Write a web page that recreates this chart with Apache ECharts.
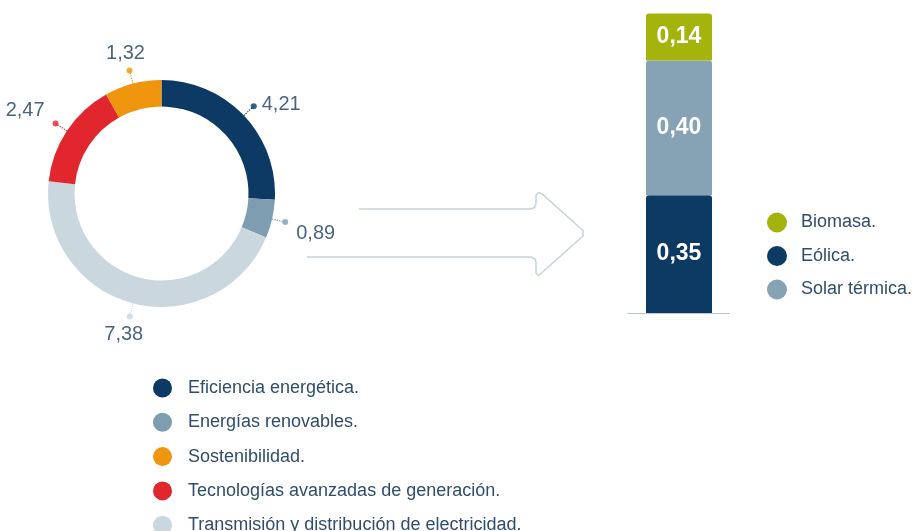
<!DOCTYPE html>
<html><head><meta charset="utf-8">
<script src="https://cdn.jsdelivr.net/npm/echarts@6/dist/echarts.min.js"></script>
<style>html,body{margin:0;padding:0;background:#fff}#c{width:916px;height:531px}</style>
</head><body><div id="c"></div>
<script>
// ---- data ----
const pieNames = ['Eficiencia energética.', 'Energías renovables.', 'Transmisión y distribución de electricidad.', 'Tecnologías avanzadas de generación.', 'Sostenibilidad.'];
const pieValues = [4.21, 0.89, 7.38, 2.47, 1.32];
const pieLegendOrder = ['Eficiencia energética.', 'Energías renovables.', 'Sostenibilidad.', 'Tecnologías avanzadas de generación.', 'Transmisión y distribución de electricidad.'];
const barCategory = ['Energías renovables'];
const barNames = ['Eólica.', 'Solar térmica.', 'Biomasa.'];
const barValues = [0.35, 0.40, 0.14];
const barLegendOrder = ['Biomasa.', 'Eólica.', 'Solar térmica.'];

// ---- styles ----
const pieColors = ['#0c3a64', '#7f9db1', '#cbd7df', '#e2262d', '#f0950e'];
const barColors = ['#0d3a63', '#86a2b5', '#a4b40d'];
const labelPlace = [
  {position: 'right', distance: 5, offset: [0, -2]},
  {position: 'right', distance: 8, offset: [0, 11]},
  {position: 'bottom', distance: 5, offset: [-6, 0]},
  {position: 'left', distance: 12, offset: [4, -13]},
  {position: 'top', distance: 4, offset: [-4, 0]}
];
const FONT = '"Liberation Sans", Arial, sans-serif';
const fmt = v => v.toFixed(2).replace('.', ',');

const total = pieValues.reduce((a, b) => a + b, 0);
let cum = 0;
const dotData = pieValues.map((v, i) => {
  const mid = cum + v / 2; cum += v;
  return {
    value: [1, mid],
    itemStyle: {color: pieColors[i]},
    label: Object.assign({show: true, formatter: fmt(v), color: '#1b3d63', fontSize: 20, fontFamily: FONT}, labelPlace[i])
  };
});

const chart = echarts.init(document.getElementById('c'), null, {renderer: 'canvas'});
chart.setOption({
  animation: false,
  backgroundColor: '#ffffff',
  polar: {center: [161.5, 193.5], radius: 127},
  angleAxis: {type: 'value', min: 0, max: total, startAngle: 90, clockwise: true, show: false},
  radiusAxis: {type: 'value', min: 0, max: 1, show: false},
  grid: {left: 628, top: 13.5, width: 102, height: 299.5},
  xAxis: {type: 'category', data: barCategory,
    axisLine: {lineStyle: {color: '#a9bccb', type: 'dotted', width: 1}},
    axisTick: {show: false}, axisLabel: {show: false}},
  yAxis: {type: 'value', min: 0, max: 0.89, show: false, splitLine: {show: false}},
  legend: [
    {data: pieLegendOrder, orient: 'vertical', left: 153, top: 378.5, height: 200, padding: 0, icon: 'circle',
      itemWidth: 19, itemHeight: 19, itemGap: 15.3,
      textStyle: {fontSize: 18, color: '#2f4d6e', fontFamily: FONT, padding: [0, 0, 0, 11], lineHeight: 19}},
    {data: barLegendOrder, orient: 'vertical', left: 767, top: 212.5, padding: 0, icon: 'circle',
      itemWidth: 20, itemHeight: 20, itemGap: 13.5,
      textStyle: {fontSize: 18, color: '#2f4d6e', fontFamily: FONT, padding: [0, 0, 0, 9], lineHeight: 20}}
  ],
  graphic: [{
    type: 'polyline', silent: true,
    shape: {points: [[359, 209], [531, 209], [535, 207], [536, 203], [536, 195], [538.5, 192.5], [541.5, 193.5], [583, 230.5], [583, 236], [541.5, 273], [538.5, 275.5], [536, 273], [536, 262], [535, 259], [531, 257], [307, 257]]},
    style: {stroke: '#c5d2dc', lineWidth: 1.5, fill: null}
  }],
  series: [
    {
      type: 'pie', name: 'donut', center: [161.5, 193.5], radius: [87, 113.5],
      startAngle: 90, clockwise: true, avoidLabelOverlap: false,
      data: pieNames.map((n, i) => ({name: n, value: pieValues[i], itemStyle: {color: pieColors[i]}})),
      label: {show: true, position: 'outside', formatter: ' ', color: 'transparent', fontSize: 1},
      labelLine: {show: true, length: 13.5, length2: 0, lineStyle: {type: 'dotted', width: 1.2}},
      emphasis: {disabled: true}
    },
    {
      type: 'scatter', name: 'dots', coordinateSystem: 'polar', symbol: 'circle', symbolSize: 6,
      data: dotData, z: 5, emphasis: {disabled: true}
    },
    ...barNames.map((n, i) => ({
      type: 'bar', name: n, stack: 'r', barWidth: 66,
      data: [barValues[i]],
      itemStyle: {color: barColors[i], borderRadius: [3, 3, 0, 0]},
      label: {show: true, position: 'inside', formatter: p => fmt(p.value), color: '#ffffff', fontSize: 23, fontWeight: 'bold', fontFamily: FONT},
      emphasis: {disabled: true}
    }))
  ]
});
</script>
</body></html>
